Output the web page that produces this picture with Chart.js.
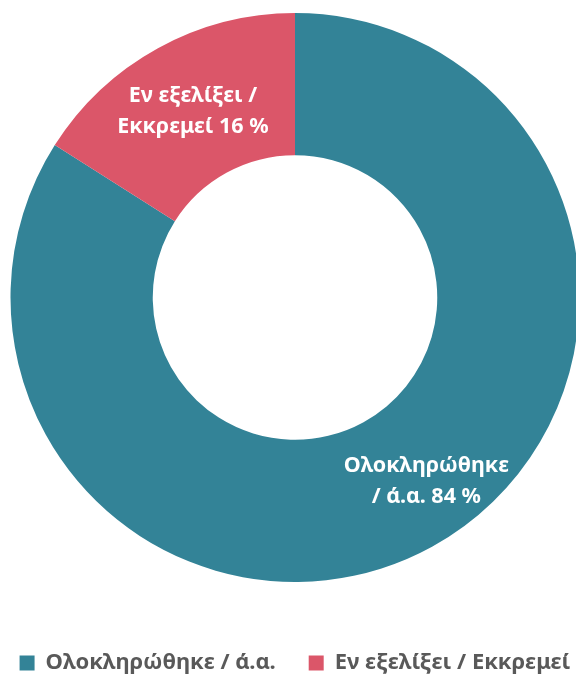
<!DOCTYPE html>
<html><head><meta charset="utf-8">
<script src="https://cdn.jsdelivr.net/npm/chart.js@4/dist/chart.umd.min.js"></script>
<style>
html,body{margin:0;padding:0;background:#fff;overflow:hidden;width:576px;height:675px;position:relative}
#wrap{position:absolute;left:-25px;top:0;width:640px;height:684px}
</style>
</head><body><div id="wrap"><canvas id="c"></canvas></div>
<script>
const categories = ['Ολοκληρώθηκε / ά.α.', 'Εν εξελίξει / Εκκρεμεί'];
const values = [84, 16];
const labelFirstLines = ['Ολοκληρώθηκε', 'Εν εξελίξει /'];
const labelSecondPrefixes = ['/ ά.α. ', 'Εκκρεμεί '];
const colors = ['#338397', '#DB5669'];

const FONT = "'Noto Sans', 'DejaVu Sans', sans-serif";
// label placement tweaks (angle shift in radians, radial fraction inside the ring)
const labelAngleShift = [-0.117, 0];
const labelRadialFrac = [0.59, 0.49];

const sliceLabels = {
  id: 'sliceLabels',
  afterDatasetsDraw(chart) {
    const ctx = chart.ctx;
    const meta = chart.getDatasetMeta(0);
    meta.data.forEach((arc, i) => {
      const p = arc.getProps(['x','y','startAngle','endAngle','innerRadius','outerRadius'], true);
      const a = (p.startAngle + p.endAngle) / 2 + labelAngleShift[i];
      const r = p.innerRadius + (p.outerRadius - p.innerRadius) * labelRadialFrac[i];
      const cx = p.x + Math.cos(a) * r;
      const cy = p.y + Math.sin(a) * r;
      const lines = [labelFirstLines[i], labelSecondPrefixes[i] + values[i] + ' %'];
      ctx.save();
      ctx.fillStyle = '#ffffff';
      ctx.font = "bold 21.5px " + FONT;
      ctx.textAlign = 'center';
      ctx.textBaseline = 'middle';
      const lh = 31;
      lines.forEach((t, k) => ctx.fillText(t, cx, cy + (k - (lines.length - 1) / 2) * lh));
      ctx.restore();
    });
  }
};

new Chart(document.getElementById('c'), {
  type: 'doughnut',
  data: {
    labels: categories,
    datasets: [{
      data: values,
      backgroundColor: colors,
      borderWidth: 0,
      hoverOffset: 0
    }]
  },
  options: {
    responsive: true,
    maintainAspectRatio: false,
    animation: false,
    cutout: '50%',
    layout: { padding: { top: 13, left: 0, right: 0, bottom: 0 } },
    plugins: {
      tooltip: { enabled: false },
      legend: {
        position: 'bottom',
        align: 'center',
        title: { display: true, text: '', font: { size: 10 }, padding: { top: 25, bottom: 0 } },
        labels: {
          boxWidth: 15,
          boxHeight: 15,
          padding: 33,
          color: '#595959',
          font: { family: FONT, size: 22, weight: 'bold' }
        }
      }
    }
  },
  plugins: [sliceLabels]
});
</script>
</body></html>
